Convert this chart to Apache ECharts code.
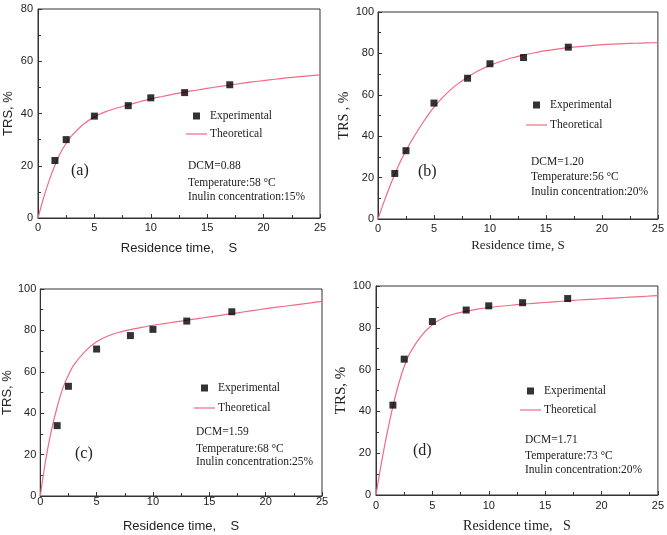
<!DOCTYPE html>
<html><head><meta charset="utf-8">
<script src="https://cdn.jsdelivr.net/npm/echarts@6/dist/echarts.min.js"></script>
<style>html,body{margin:0;padding:0;background:#fff}#c{width:667px;height:535px}</style>
</head><body><div id="c"></div>
<script>
// Experimental residence times (s)
const expX = [1.5, 2.5, 5, 8, 10, 13, 17];
const expA = [22, 30, 39, 43, 46, 48, 51];
const expB = [22, 33, 56, 68, 75, 78, 83];
const expC = [34, 53, 71, 77.5, 80.5, 84.5, 89];
const expD = [43, 65, 83, 88.5, 90.5, 92, 94];
// Theoretical curves
const curveX = [0, 0.5, 1, 1.5, 2, 2.5, 3, 4, 5, 6, 7, 8, 9, 10, 11, 12, 13, 14, 15, 16, 17, 18, 19, 20, 21, 22, 23, 24, 25];
const curveA = [0, 7.8, 14.5, 20.2, 25, 28.6, 31.5, 35.8, 38.7, 40.7, 42.1, 43.3, 44.5, 45.6, 46.5, 47.4, 48.2, 48.9, 49.6, 50.3, 50.9, 51.5, 52.1, 52.6, 53.1, 53.6, 54, 54.4, 54.8];
const curveB = [0, 7.8, 15, 21.6, 27.8, 33, 37.8, 46.5, 54, 60, 64.8, 68.5, 71.7, 74.2, 76.2, 77.9, 79.2, 80.3, 81.3, 82.1, 82.8, 83.3, 83.8, 84.2, 84.5, 84.7, 84.9, 85.1, 85.2];
const curveC = [0, 18, 32, 43, 52, 58.5, 63.5, 70, 74.5, 77.3, 79.1, 80.4, 81.5, 82.5, 83.3, 84.1, 84.9, 85.7, 86.5, 87.3, 88.1, 88.9, 89.7, 90.5, 91.2, 91.9, 92.6, 93.3, 94];
const curveD = [0, 16, 30, 42.4, 53, 61.5, 67.8, 76, 81.5, 84.8, 86.7, 87.9, 88.9, 89.7, 90.3, 90.8, 91.3, 91.7, 92.1, 92.5, 92.9, 93.3, 93.6, 93.9, 94.2, 94.5, 94.8, 95.1, 95.4];
const yMax = [80, 100, 100, 100];
const panelLabels = ['(a)', '(b)', '(c)', '(d)'];
const dcm = ['DCM=0.88', 'DCM=1.20', 'DCM=1.59', 'DCM=1.71'];
const temps = ['Temperature:58 °C', 'Temperature:56 °C', 'Temperature:68 °C', 'Temperature:73 °C'];
const concs = ['Inulin concentration:15%', 'Inulin concentration:20%', 'Inulin concentration:25%', 'Inulin concentration:20%'];
const xNames = ['Residence time,    S', 'Residence time, S', 'Residence time,    S', 'Residence time,   S'];
const yNames = ['TRS, %', 'TRS , %', 'TRS, %', 'TRS, %'];

const exps = [expA, expB, expC, expD];
const curves = [curveA, curveB, curveC, curveD];

const SANS = 'Liberation Sans, Arial, sans-serif';
const SERIF = 'Liberation Serif, Times New Roman, serif';
const PINK = '#f26a86';

const grids = [
  {left: 38, top: 9, width: 282, height: 209},
  {left: 378, top: 12, width: 282, height: 207},
  {left: 39, top: 289, width: 283, height: 207},
  {left: 376, top: 286, width: 284, height: 209}
];
const nameFont = [
  {f: SANS, s: 13}, {f: SERIF, s: 13}, {f: SANS, s: 13}, {f: SERIF, s: 14}
];
const yNameFont = [
  {f: SANS, s: 13}, {f: SERIF, s: 14}, {f: SANS, s: 13}, {f: SERIF, s: 15}
];
const xNameGap = [24, 20, 24, 24];
const yNameGap = [23, 25, 24, 23];
const xLabelMargin = [4, 4, 0, 5];
const yLabelMargin = [5, 4, 4, 5];
const legendPos = [
  {left: 186, top: 110, gap: 6},
  {left: 526, top: 99, gap: 8},
  {left: 194, top: 382, gap: 8},
  {left: 520, top: 385, gap: 7}
];
const panelLabelPos = [[71, 173], [418, 174], [75, 456], [413, 453]];
const annoPos = [
  [188, 167, 184, 198],
  [531, 163, 178, 193],
  [196, 433, 450, 463],
  [525, 441, 457, 471]
];

const option = {
  animation: false,
  backgroundColor: '#fff',
  grid: grids.map(g => Object.assign({show: true, borderColor: '#333', borderWidth: 1, backgroundColor: 'transparent'}, g)),
  xAxis: grids.map((g, i) => ({
    gridIndex: i, type: 'value', min: 0, max: 25, interval: 5,
    name: xNames[i], nameLocation: 'middle', nameGap: xNameGap[i],
    nameTextStyle: {fontFamily: nameFont[i].f, fontSize: nameFont[i].s, color: '#222'},
    axisLine: {show: true, onZero: false, lineStyle: {color: '#333', width: 1}},
    axisTick: {show: true, inside: true, length: 4, lineStyle: {color: '#333'}},
    minorTick: {show: true, splitNumber: 2, length: 3, lineStyle: {color: '#333'}},
    splitLine: {show: false},
    axisLabel: {fontFamily: SANS, fontSize: 11, color: '#222', margin: xLabelMargin[i]}
  })),
  yAxis: grids.map((g, i) => ({
    gridIndex: i, type: 'value', min: 0, max: yMax[i], interval: 20,
    name: yNames[i], nameLocation: 'middle', nameGap: yNameGap[i],
    nameTextStyle: {fontFamily: yNameFont[i].f, fontSize: yNameFont[i].s, color: '#222'},
    axisLine: {show: true, onZero: false, lineStyle: {color: '#333', width: 1}},
    axisTick: {show: true, inside: true, length: 4, lineStyle: {color: '#333'}},
    minorTick: {show: true, splitNumber: 2, length: 3, lineStyle: {color: '#333'}},
    splitLine: {show: false},
    axisLabel: {fontFamily: SANS, fontSize: 11, color: '#222', margin: yLabelMargin[i]}
  })),
  legend: legendPos.map((p, i) => ({
    orient: 'vertical', left: p.left, top: p.top, itemGap: p.gap,
    itemWidth: 21, itemHeight: 7, padding: 0,
    textStyle: {fontFamily: SERIF, fontSize: 11.5, color: '#222', padding: [0, 0, 0, -2]},
    data: [
      {name: 'Experimental', icon: 'path://M0,0h10v10h-10z', itemStyle: {color: '#000'}},
      {name: 'Theoretical', icon: 'path://M0,0h21v1.2h-21z', itemStyle: {color: PINK}}
    ]
  })),
  series: [],
  graphic: []
};

for (let i = 0; i < 4; i++) {
  option.series.push({
    name: 'Theoretical', type: 'line', xAxisIndex: i, yAxisIndex: i,
    data: curveX.map((x, k) => [x, curves[i][k]]),
    smooth: 0.25, showSymbol: false, symbol: 'none',
    lineStyle: {color: PINK, width: 1.2}, itemStyle: {color: PINK}, z: 2
  });
  option.series.push({
    name: 'Experimental', type: 'scatter', xAxisIndex: i, yAxisIndex: i,
    data: expX.map((x, k) => [x, exps[i][k]]),
    symbol: 'rect', symbolSize: 7, itemStyle: {color: '#000'}, z: 3
  });
  option.graphic.push({
    type: 'text', left: panelLabelPos[i][0], top: panelLabelPos[i][1] - 10,
    style: {text: panelLabels[i], font: '16px ' + SERIF, fill: '#222'}
  });
  const a = annoPos[i];
  [dcm[i], temps[i], concs[i]].forEach((t, k) => {
    option.graphic.push({
      type: 'text', left: a[0], top: a[k + 1] - 7,
      style: {text: t, font: '11.5px ' + SERIF, fill: '#222'}
    });
  });
}

const chart = echarts.init(document.getElementById('c'), null, {renderer: 'canvas'});
chart.setOption(option);
</script>
</body></html>
